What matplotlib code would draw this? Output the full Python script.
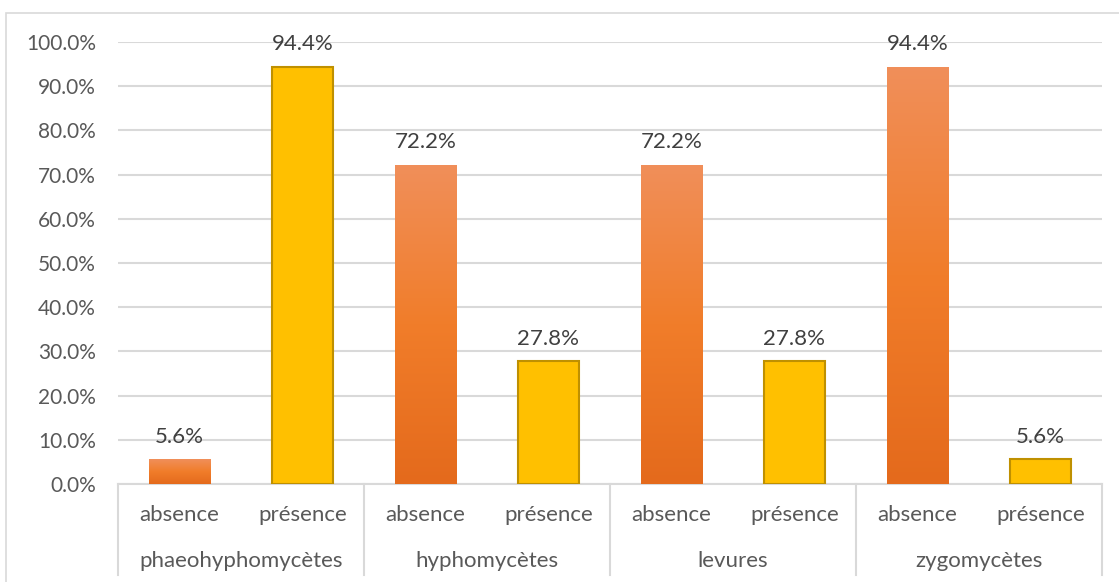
import numpy as np
import matplotlib.pyplot as plt
import matplotlib.patches as mpatches
from matplotlib.colors import LinearSegmentedColormap

# ── DATOS ─────────────────────────────────────────────
categorias = ['phaeohyphomycètes', 'hyphomycètes', 'levures', 'zygomycètes']
estados = ['absence', 'présence']
absence = [0.056, 0.722, 0.722, 0.944]
presence = [0.944, 0.278, 0.278, 0.056]
yticks = [0.0, 0.1, 0.2, 0.3, 0.4, 0.5, 0.6, 0.7, 0.8, 0.9, 1.0]

plt.rcParams['font.family'] = ['Lato', 'DejaVu Sans']
TXT = '#595959'
GRID = '#D9D9D9'

fig = plt.figure(figsize=(11.19, 5.82), dpi=100)
ax = fig.add_axes([118 / 1119, 98 / 582, 984 / 1119, 442 / 582])

# borde exterior del gráfico
fig.patches.append(mpatches.Rectangle((6 / 1119, -0.1), 1.2, 0.1 + 1 - 13 / 582,
                                      transform=fig.transFigure, fill=False,
                                      edgecolor=GRID, linewidth=1.2, zorder=0))

# degradado naranja (claro arriba, oscuro abajo)
cmap = LinearSegmentedColormap.from_list('nar', ['#E46A1C', '#F17D2A', '#F08F5A'])
grad = np.linspace(0, 1, 256).reshape(-1, 1)

valores = []
for a, p in zip(absence, presence):
    valores += [a, p]

for i, v in enumerate(valores):
    if i % 2 == 0:
        b = ax.bar(i, v, width=0.5, color='none', edgecolor='none', zorder=3)[0]
        im = ax.imshow(grad, cmap=cmap, aspect='auto', origin='lower',
                       extent=(i - 0.25, i + 0.25, 0, v), zorder=3)
        im.set_clip_path(b)
    else:
        ax.bar(i, v, width=0.5, color='#FFC000', edgecolor='#BF9000',
               linewidth=1.5, zorder=3)
    ax.annotate(f'{v * 100:.1f}%', (i, v), xytext=(0, 9), textcoords='offset points',
                ha='center', va='bottom', fontsize=16, color='#404040')

ax.set_xlim(-0.5, 7.5)
ax.set_ylim(0, 1.0)
ax.set_yticks(yticks)
ax.set_yticklabels([f'{t * 100:.1f}%' for t in yticks], fontsize=15, color=TXT)
ax.tick_params(axis='y', length=0, pad=16)
ax.set_xticks([])
ax.grid(axis='y', color=GRID, linewidth=1.5, zorder=0)
for s in ['top', 'right', 'left']:
    ax.spines[s].set_visible(False)
ax.spines['bottom'].set_color(GRID)
ax.spines['bottom'].set_linewidth(1.5)

# eje de categorías en dos niveles
for k in range(len(categorias) + 1):
    ax.plot([k * 2 - 0.5] * 2, [0, -0.206], color=GRID, linewidth=1.5,
            clip_on=False, transform=ax.get_xaxis_transform())
for i in range(len(valores)):
    ax.text(i, -0.07, estados[i % 2], transform=ax.get_xaxis_transform(),
            ha='center', va='center', fontsize=16, color=TXT)
for k, c in enumerate(categorias):
    ax.text(k * 2 + 0.5, -0.174, c, transform=ax.get_xaxis_transform(),
            ha='center', va='center', fontsize=16, color=TXT)

fig.savefig('out.png', dpi=100)
